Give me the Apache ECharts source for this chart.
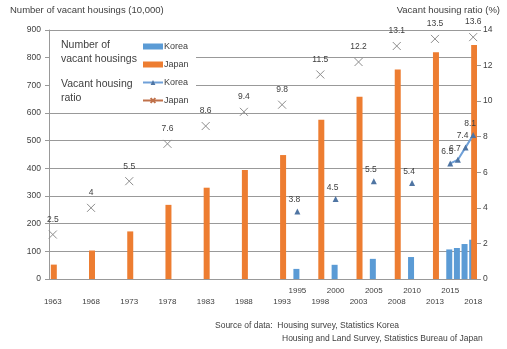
<!DOCTYPE html>
<html><head><meta charset="utf-8">
<script src="https://cdn.jsdelivr.net/npm/echarts@6/dist/echarts.min.js"></script>
<style>html,body{margin:0;padding:0;background:#fff}#c{width:507px;height:349px}</style>
</head><body><div id="c"></div>
<script>
var japanYears = [1963,1968,1973,1978,1983,1988,1993,1998,2003,2008,2013,2018];
var japanHousings = [52,103,172,268,330,394,448,576,659,757,820,846];
var japanRatio = [2.5,4,5.5,7.6,8.6,9.4,9.8,11.5,12.2,13.1,13.5,13.6];
var koreaYears = [1995,2000,2005,2010,2015,2016,2017,2018];
var koreaHousings = [36.5,51.3,72.8,79.4,106.9,112,126.4,142];
var koreaRatio = [3.8,4.5,5.5,5.4,6.5,6.7,7.4,8.1];
var koreaTickYears = [1995,2000,2005,2010,2015];
var leftTicks = {min:0,max:900,interval:100};
var rightTicks = {min:0,max:14,interval:2};

var years = [];
for (var y = 1963; y <= 2018; y++) years.push(String(y));
function mapTo(ys, vals){
  var out = years.map(function(){return null;});
  ys.forEach(function(yy,i){ out[yy-1963] = vals[i]; });
  return out;
}
var FONT = 'Liberation Sans';
var GRID = '#999999';
var chart = echarts.init(document.getElementById('c'));
var labelStyle = {show:true, position:'top', fontSize:8.5, color:'#404040', fontFamily:FONT, distance:4};
chart.setOption({
  animation:false,
  textStyle:{fontFamily:FONT},
  grid:{left:49,right:30,top:30,bottom:70,containLabel:false},
  xAxis:[{
    type:'category', data:years, boundaryGap:true,
    axisLine:{lineStyle:{color:GRID}}, axisTick:{show:false},
    axisLabel:{interval:function(i,v){return japanYears.indexOf(+v)>=0;}, margin:19, fontSize:8, color:'#404040', fontFamily:FONT}
  },{
    type:'category', data:years, position:'bottom', boundaryGap:true,
    axisLine:{show:false}, axisTick:{show:false},
    axisLabel:{interval:function(i,v){return koreaTickYears.indexOf(+v)>=0;}, margin:8, fontSize:8, color:'#404040', fontFamily:FONT}
  }],
  yAxis:[{
    type:'value', min:leftTicks.min, max:leftTicks.max, interval:leftTicks.interval,
    axisLine:{show:true,lineStyle:{color:GRID}}, axisTick:{show:true,length:4,lineStyle:{color:GRID}},
    splitLine:{lineStyle:{color:GRID}},
    axisLabel:{fontSize:8.5,color:'#404040',margin:8,fontFamily:FONT}
  },{
    type:'value', min:rightTicks.min, max:rightTicks.max, interval:rightTicks.interval, position:'right',
    axisLine:{show:false}, axisTick:{show:true,length:4,lineStyle:{color:GRID}},
    splitLine:{show:false},
    axisLabel:{fontSize:8.5,color:'#404040',margin:6,fontFamily:FONT}
  }],
  legend:{
    orient:'vertical', left:137, top:37, itemWidth:20, itemHeight:6, itemGap:9, z:110,
    textStyle:{fontSize:9,color:'#404040',fontFamily:FONT,padding:[0,0,0,-4]},
    formatter:function(n){return n.split(' ')[0];},
    data:[
      {name:'Korea bar', icon:'rect'},
      {name:'Japan bar', icon:'rect'},
      {name:'Korea ratio'},
      {name:'Japan ratio', itemStyle:{color:'#c0714a',borderColor:'#c0714a'}, lineStyle:{color:'#c0714a'}}
    ]
  },
  graphic:[
    {type:'rect', shape:{x:50,y:33,width:146,height:80}, style:{fill:'#fff'}, z:100},
    {type:'text', left:10, top:5, style:{text:'Number of vacant housings (10,000)', fontSize:9.5, fill:'#404040', fontFamily:FONT}, z:110},
    {type:'text', right:7, top:5, style:{text:'Vacant housing ratio (%)', fontSize:9.5, fill:'#404040', fontFamily:FONT}, z:110},
    {type:'text', left:61, top:38, style:{text:'Number of\nvacant housings', fontSize:10.5, lineHeight:14, fill:'#404040', fontFamily:FONT}, z:110},
    {type:'text', left:61, top:77, style:{text:'Vacant housing\nratio', fontSize:10.5, lineHeight:14, fill:'#404040', fontFamily:FONT}, z:110},
    {type:'text', left:215, top:321, style:{text:'Source of data:  Housing survey, Statistics Korea', fontSize:8.5, fill:'#404040', fontFamily:FONT}, z:110},
    {type:'text', left:282, top:334, style:{text:'Housing and Land Survey, Statistics Bureau of Japan', fontSize:8.5, fill:'#404040', fontFamily:FONT}, z:110}
  ],
  series:[
    {name:'Korea bar', type:'bar', xAxisIndex:0, yAxisIndex:0, data:mapTo(koreaYears,koreaHousings), barWidth:6, barGap:'-67%', itemStyle:{color:'#5b9bd5'}},
    {name:'Japan bar', type:'bar', xAxisIndex:0, yAxisIndex:0, data:mapTo(japanYears,japanHousings), barWidth:6, barGap:'-67%', itemStyle:{color:'#ed7d31'}},
    {name:'Korea ratio', type:'line', xAxisIndex:0, yAxisIndex:1, data:mapTo(koreaYears,koreaRatio), connectNulls:false,
      showSymbol:true, showAllSymbol:true,
      symbol:'triangle', symbolSize:6, itemStyle:{color:'#4f75a3'}, lineStyle:{color:'#6fa0d8',width:2},
      label:Object.assign({}, labelStyle, {offset:[-3,0]}), z:5},
    {name:'Japan ratio', type:'line', xAxisIndex:0, yAxisIndex:1, data:mapTo(japanYears,japanRatio), connectNulls:false,
      showSymbol:true, showAllSymbol:true,
      symbol:'path://M0,0 L10,10 M10,0 L0,10', symbolSize:8,
      itemStyle:{color:'none',borderColor:'#8c8c8c',borderWidth:1}, lineStyle:{color:'#c0714a',width:2},
      label:labelStyle, z:5}
  ]
});
</script></body></html>
